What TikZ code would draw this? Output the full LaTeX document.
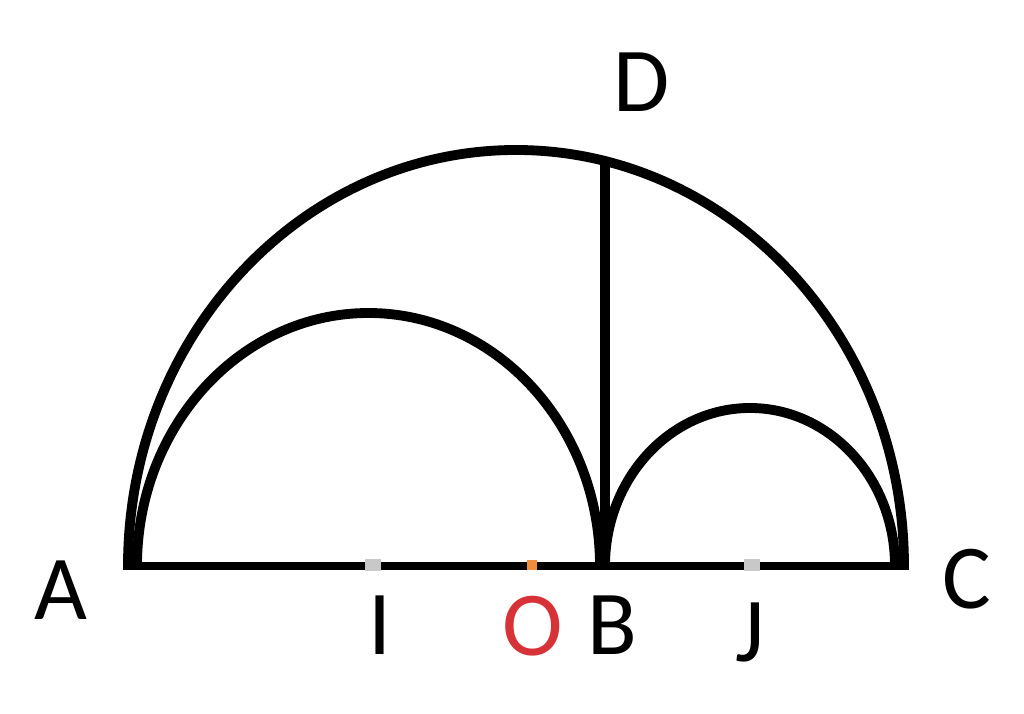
\documentclass[tikz,border=0pt]{standalone}
\usepackage{fontspec}
\setmainfont{Carlito}
\usetikzlibrary{calc}
\definecolor{LabelRed}{RGB}{214,50,56}
\definecolor{TickGray}{RGB}{200,200,200}
\definecolor{TickOrange}{RGB}{240,140,60}
\tikzset{
    arc line/.style={line width=2.8pt},
    base line/.style={line width=2pt},
    height line/.style={line width=3.1pt},
    point label/.style={anchor=base, inner sep=0pt, font=\fontsize{26}{30}\selectfont}
}

\begin{document}
\begin{tikzpicture}
    \useasboundingbox (0,0) rectangle (10.24,-7.14);

    \coordinate (A) at (1.28,-5.66);
    \coordinate (C) at (9.04,-5.66);
    \coordinate (B) at (6.05,-5.66);
    \coordinate (A1) at (1.37,-5.66);
    \coordinate (B1) at (6.05,-5.66);
    \coordinate (D) at (6.05,-1.61);
    \coordinate (I) at (3.73,-5.66);
    \coordinate (O) at (5.32,-5.66);
    \coordinate (J) at (7.52,-5.66);

    % demi-cercles
    \draw[arc line] (A) arc[start angle=180, end angle=0, x radius=3.88, y radius=4.16];
    \draw[arc line] (A1) arc[start angle=180, end angle=0, x radius=2.315, y radius=2.53];
    \draw[arc line] (B1) arc[start angle=180, end angle=0, x radius=1.45, y radius=1.58];

    % diametre et hauteur
    \draw[base line] ($(A)+(-0.05,0)$) -- ($(C)+(0.05,0)$);
    \draw[height line] (B) -- (D);

    % centres
    \fill[TickGray] ($(I)+(-0.08,-0.05)$) rectangle ($(I)+(0.08,0.07)$);
    \fill[TickOrange] ($(O)+(-0.05,-0.04)$) rectangle ($(O)+(0.05,0.06)$);
    \fill[TickGray] ($(J)+(-0.08,-0.05)$) rectangle ($(J)+(0.08,0.07)$);

    \node[point label] (la) at (0.61,-6.20) {A};
    \node[point label] (lc) at (9.67,-6.09) {C};
    \node[point label] (ld) at (6.42,-1.12) {D};
    \node[point label] (li) at (3.80,-6.55) {I};
    \node[point label, text=LabelRed] (lo) at (5.33,-6.56) {O};
    \node[point label] (lb) at (6.12,-6.55) {B};
    \node[point label] (lj) at (7.50,-6.62) {J};

\end{tikzpicture}
\end{document}
